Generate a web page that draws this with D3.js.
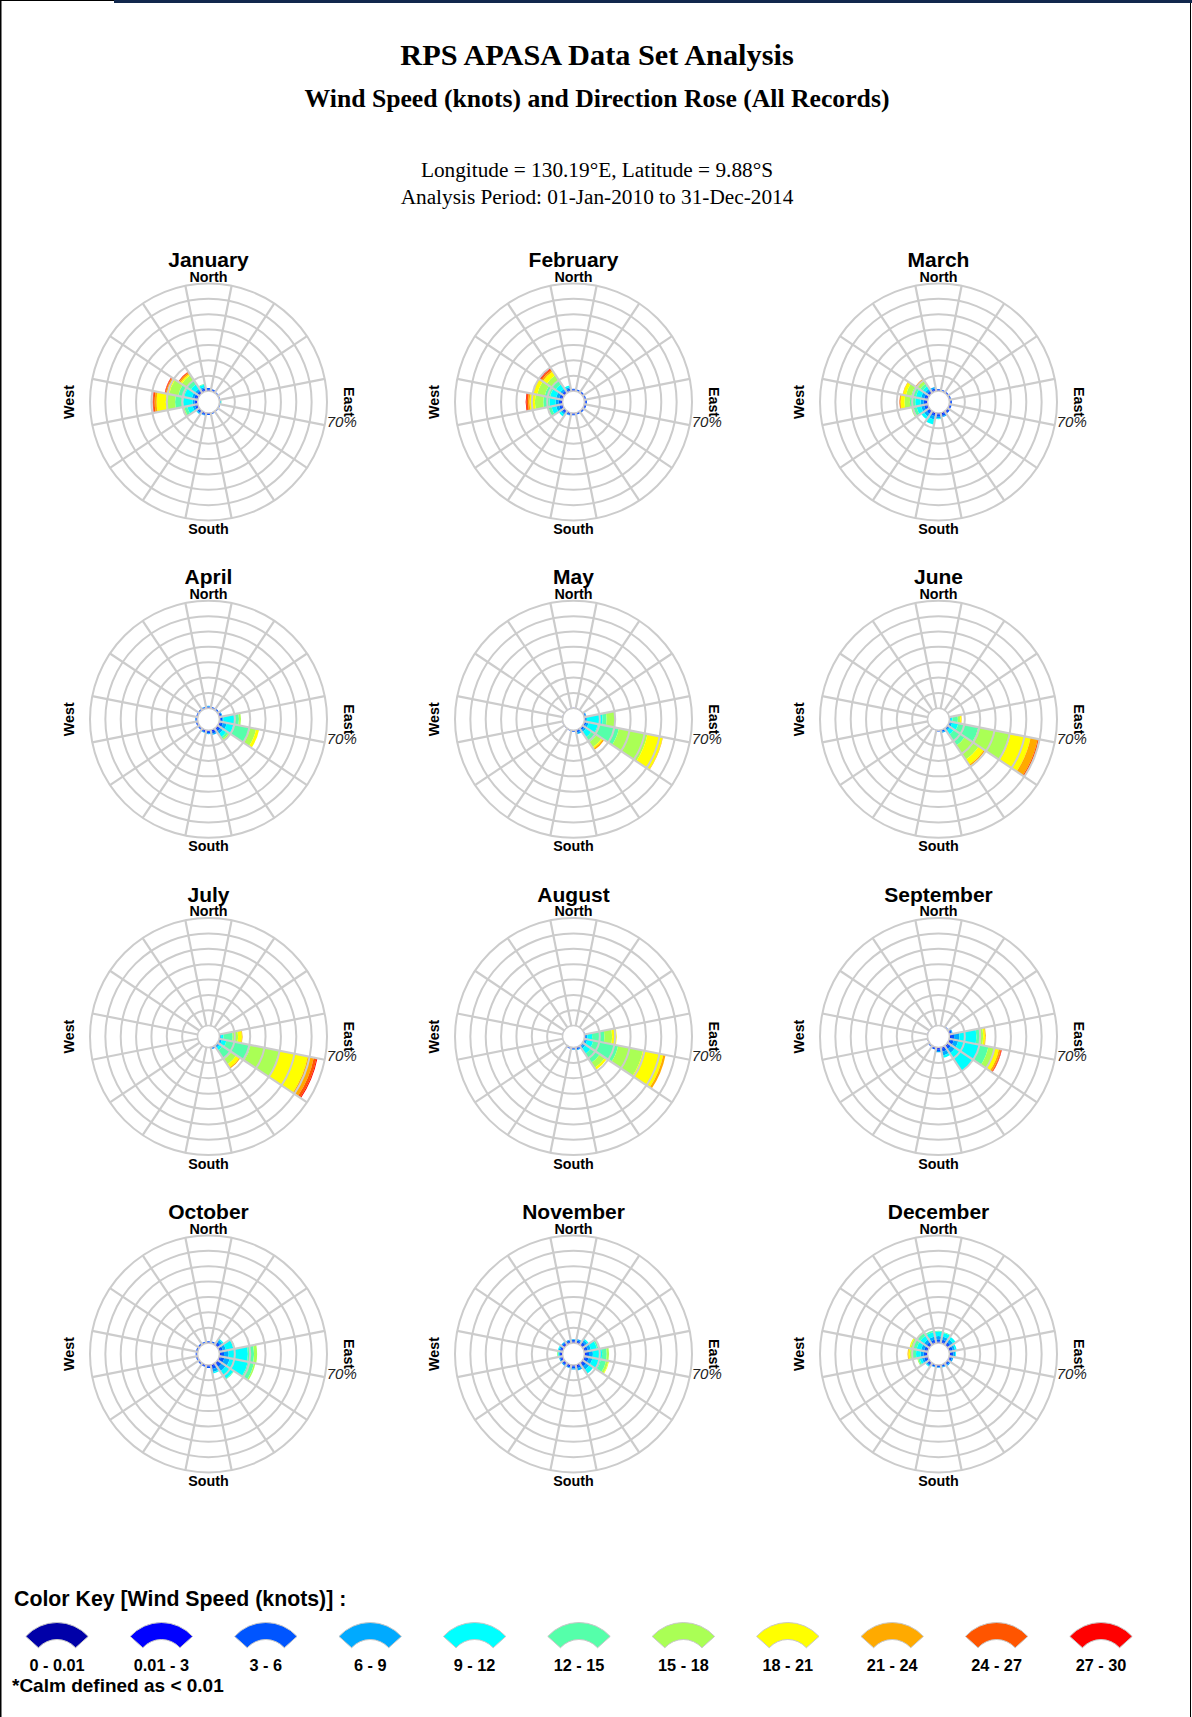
<!DOCTYPE html>
<html><head><meta charset="utf-8">
<script src="https://cdn.jsdelivr.net/npm/d3@7"></script>
<style>body{margin:0;background:#fff}svg{display:block}</style>
</head><body>
<svg id="c" width="1192" height="1717"></svg>
<script>
// ---------- data ----------
const directions = ["N","NNE","NE","ENE","E","ESE","SE","SSE","S","SSW","SW","WSW","W","WNW","NW","NNW"];
const speedBins = ["0 - 0.01","0.01 - 3","3 - 6","6 - 9","9 - 12","12 - 15","15 - 18","18 - 21","21 - 24","24 - 27","27 - 30"];
const binColors = ["#0000A8","#0000FF","#0055FF","#00AAFF","#00FFFF","#55FFAA","#AAFF55","#FFFF00","#FFAA00","#FF5500","#FF0000"];
const months = ["January","February","March","April","May","June","July","August","September","October","November","December"];
const ringTicks = [10,20,30,40,50,60,70];
const maxTickLabel = "70%";

// each row: percent of records per speed bin (0.01-3 ... 27-30) for one direction, N clockwise
const janData = [
  [1,1],[0.8,0.7],[0.5,0.3],[0.4,0.3],[0.3,0.3,0.2,0.2,0.3],[0.4,0.3],[0.4,0.3],[0.5,0.4],
  [0.7,0.6],[0.8,0.8,0.4],[0.8,1,0.7,0.3],[1,1,1.5,3.5,2,1],
  [1,1,1.3,6,5.3,6,6,1.3,1,0.3],[1,1.5,1.5,5,4,6,1.5,0.7,0.5,0.3],[1,1,1.5,3.5,3,4,1,1,0.5,0.2],[1,1,1,1.5,0.5]
];
const febData = [
  [0.8,0.7],[0.7,0.6],[0.7,0.6],[0.7,0.6],[0.8,0.8],[0.8,0.7],[0.7,0.7],[0.7,0.6],
  [0.8,0.7],[0.8,0.8,0.4],[1,1,1,1.5],[1,1.5,2,3,2,0.5],
  [1,1.5,2,4,4,5.5,3.5,1,1,0.5],[1,1.5,2,4,3.5,5,2.5,0.5],[1,1,1.5,3.5,3,4,3,1,1,1],[1,1,1,1]
];
const marData = [
  [0.8,0.5],[0.7,0.4],[0.7,0.4],[0.7,0.5],[0.8,0.8],[0.8,0.8],[1,1],[1,1.5,0.5],
  [1,1.5,1,0.5],[1,1.5,2,3.5],[1,1.5,2,2],[1,1.5,2,3,2,1.5],
  [1,1.5,2,3.5,3.5,3.5,2.5,0.5,0.3],[1,1.5,2,3.5,3,3.5,2,0.3],[1,1,1.5,2,2,2,0.8,0.5,0.2],[1,1,1]
];
const aprData = [
  [0.7,0.5,0.5],[0.6,0.6],[0.6,0.6],[0.8,0.8,0.5],[0.8,1,0.9,7.6,2.4,1.3],[1,1.5,2.5,4.5,11,4,2],[1,1.5,2,2.5,1.5,1,0.5],[1,1.5,0.8],
  [1,1,0.5],[0.8,0.8,0.4],[0.7,0.6],[0.7,0.6],
  [0.7,0.6,0.3],[0.6,0.5],[0.6,0.5],[0.6,0.5,0.3]
];
const mayData = [
  [0.3],[0.3],[0.3],[0.5,0.5,0.5],[0.5,0.5,0.6,10.2,2.6,5.6],[0.5,1,1.5,6,14,19,10,0.3],[0.5,1,1.5,4,4,4,1,1],[0.7,1,1],
  [0.5,0.4],[0.4,0.3],[0.3],[0.3],
  [0.3],[0.3],[0.3],[0.3]
];
const junData = [
  [0],[0],[0],[0],[0.3,0.3,0.4,1,3.5,1.5,0.8,0.2],[0.5,0.5,1,4,13.3,21.3,13.4,4.7,1],[0.5,0.5,1,3,8.5,11,4,1],[0.5,0.7,0.8],
  [0.5,0.3],[0.3],[0],[0],
  [0],[0],[0],[0]
];
const julData = [
  [0],[0],[0],[0],[0.3,0.3,0.5,1.5,6,3.5,2.5,0.4],[0.3,0.5,1,3,16,19,19,4,1.8,0.6],[0.3,0.5,1,2,7,4,2.5,0.7],[0.5,0.5,0.3],
  [0.3],[0],[0],[0],
  [0],[0],[0],[0]
];
const augData = [
  [0.2],[0.2],[0.2],[0.3,0.2],[0.5,0.5,1,3,8,5,3],[0.5,0.5,1,4,16.5,16.5,13.5,1.5],[0.5,0.5,1.5,4,7,4,1.5],[0.7,0.7,0.6],
  [0.6,0.5,0.3],[0.5,0.4],[0.2],[0.2],
  [0.2],[0.2],[0.2],[0.2]
];
const sepData = [
  [0.3],[0.3],[0.4,0.3],[0.8,1,0.5],[1,2,3.5,11,3,1.5,1.2,0.5],[1,2,3,14,6,4,3,1.2,0.5,0.3],[1,2,3,14],[1,2,2.5,1.5],
  [1,1.2,0.8],[0.8,0.7],[0.6,0.4],[0.4],
  [0.3],[0.3],[0.3],[0.3]
];
const octData = [
  [0.7,0.5],[0.7,0.6],[1,1.5,1.5,1],[1,1.5,2,5,1],[1,2,3,12.5,4,2],[1,2.5,3.5,12,4,1],[1,2.5,3,6,0.5],[1,2,2,1],
  [1,1],[0.8,0.6],[0.7,0.5],[0.7,0.5],
  [0.7,0.5],[0.7,0.5],[0.7,0.5],[0.7,0.5]
];
const novData = [
  [1,1,0.5],[1,1,0.8],[1,1.5,1.5,1],[1,1.5,2,4,1],[1,2,2.5,6,3,1.5],[1,2,2.5,5.5,3.5,1.5,0.5],[1,2,2.5,3],[1,1.5,1.5],
  [1,1.2,0.8],[1,1,0.5],[1,1,0.5],[1,1,0.5],
  [1,0.8,0.5,0.5,0.5,0.3],[1,1,0.8,0.5],[1,1,0.8],[1,1,0.5]
];
const decData = [
  [1,1.5,2,3,0.5],[1,1.5,2,2.5,0.5],[1,1.5,2,2],[1,1.5,1.5,1],[1,1.5,1.2,0.5],[0.8,1.2,0.8],[0.8,1,0.7],[0.7,0.8,0.5],
  [0.7,0.8,0.3],[0.7,0.8,0.3],[1,1,0.8,0.5],[1,1.5,1.5,1.5,1,0.5],
  [1,1.5,2,3,2.5,1.5,1,0.5],[1,1.5,2,3,2.5,1.5,0.7],[1,1.5,2,3,2,1],[1,1.5,2,3,1]
];
const monthData = [janData,febData,marData,aprData,mayData,junData,julData,augData,sepData,octData,novData,decData];

// ---------- layout ----------
const W = 1192, H = 1717;
const SANS = "'Liberation Sans', Arial, sans-serif";
const SERIF = "'Liberation Serif', 'Times New Roman', serif";
const colX = [208.5, 573.5, 938.5];
const rowY = [402, 719.3, 1036.6, 1354];
const R0 = 11, R = 118.5;
const GRID = "#cccccc";

const svg = d3.select("#c");
svg.append("rect").attr("width", W).attr("height", H).attr("fill", "#fff");

// page frame
svg.append("line").attr("x1", 0.75).attr("x2", 0.75).attr("y1", 0).attr("y2", H).attr("stroke", "#000").attr("stroke-width", 1.5);
svg.append("line").attr("x1", 1190.5).attr("x2", 1190.5).attr("y1", 0).attr("y2", H).attr("stroke", "#000").attr("stroke-width", 1);
svg.append("line").attr("x1", 0).attr("x2", 114).attr("y1", 0.5).attr("y2", 0.5).attr("stroke", "#000").attr("stroke-width", 1);
svg.append("rect").attr("x", 114).attr("y", 0).attr("width", W - 114).attr("height", 3).attr("fill", "#12284d");

// headings
const head = [
  {t: "RPS APASA Data Set Analysis", y: 65, s: 30.3, w: "bold"},
  {t: "Wind Speed (knots) and Direction Rose (All Records)", y: 106.5, s: 25.7, w: "bold"},
  {t: "Longitude = 130.19°E, Latitude = 9.88°S", y: 177, s: 21.3, w: "normal"},
  {t: "Analysis Period: 01-Jan-2010 to 31-Dec-2014", y: 204, s: 21.3, w: "normal"}
];
svg.selectAll("text.head").data(head).join("text").attr("class", "head")
  .attr("x", 597).attr("y", d => d.y).attr("text-anchor", "middle")
  .attr("font-family", SERIF).attr("font-size", d => d.s).attr("font-weight", d => d.w)
  .attr("fill", "#000").text(d => d.t);

// ---------- roses ----------
const rScale = d3.scaleLinear().domain([0, 70]).range([R0, R]);
const arc = d3.arc();
const half = 11.25;
const rad = a => a * Math.PI / 180;

monthData.forEach((data, m) => {
  const cx = colX[m % 3], cy = rowY[Math.floor(m / 3)];
  const g = svg.append("g").attr("transform", `translate(${cx},${cy})`);

  const segs = [];
  data.forEach((row, i) => {
    let c = 0;
    row.forEach((v, b) => {
      if (v > 0) segs.push({i, b, c0: c, c1: c + v});
      c += v;
    });
  });
  g.selectAll("path.bar").data(segs).join("path").attr("class", "bar")
    .attr("d", d => arc({
      innerRadius: rScale(d.c0), outerRadius: rScale(d.c1),
      startAngle: rad(d.i * 22.5 - half), endAngle: rad(d.i * 22.5 + half)
    }))
    .attr("fill", d => binColors[d.b + 1]);

  // grid on top
  g.selectAll("circle.ring").data(ringTicks).join("circle").attr("class", "ring")
    .attr("r", d => rScale(d)).attr("fill", "none").attr("stroke", GRID).attr("stroke-width", 2);
  g.selectAll("line.spoke").data(directions).join("line").attr("class", "spoke")
    .attr("x1", (d, i) => R0 * Math.sin(rad(i * 22.5 + half)))
    .attr("y1", (d, i) => -R0 * Math.cos(rad(i * 22.5 + half)))
    .attr("x2", (d, i) => R * Math.sin(rad(i * 22.5 + half)))
    .attr("y2", (d, i) => -R * Math.cos(rad(i * 22.5 + half)))
    .attr("stroke", GRID).attr("stroke-width", 2.2);
  g.append("circle").attr("r", R0).attr("fill", "none").attr("stroke", GRID).attr("stroke-width", 1.5);

  // labels
  g.append("text").attr("x", 0).attr("y", -135).attr("text-anchor", "middle")
    .attr("font-family", SANS).attr("font-weight", "bold").attr("font-size", 21).text(months[m]);
  g.append("text").attr("x", 0).attr("y", -120.5).attr("text-anchor", "middle")
    .attr("font-family", SANS).attr("font-weight", "bold").attr("font-size", 14.3).text("North");
  g.append("text").attr("x", 0).attr("y", 132).attr("text-anchor", "middle")
    .attr("font-family", SANS).attr("font-weight", "bold").attr("font-size", 14.3).text("South");
  g.append("text").attr("transform", "translate(-135,0) rotate(-90)").attr("text-anchor", "middle")
    .attr("font-family", SANS).attr("font-weight", "bold").attr("font-size", 14.3).text("West");
  g.append("text").attr("transform", "translate(135,0) rotate(90)").attr("text-anchor", "middle")
    .attr("font-family", SANS).attr("font-weight", "bold").attr("font-size", 14.3).text("East");
  const la = rad(101.25);
  g.append("text").attr("x", R * Math.sin(la) + 2).attr("y", -R * Math.cos(la) + 1.5)
    .attr("font-family", SANS).attr("font-style", "italic").attr("font-size", 15).attr("fill", "#222")
    .text(maxTickLabel);
});

// ---------- legend ----------
svg.append("text").attr("x", 14).attr("y", 1606).attr("font-family", SANS).attr("font-weight", "bold")
  .attr("font-size", 21.3).text("Color Key [Wind Speed (knots)] :");
const legX = d3.scaleLinear().domain([0, speedBins.length - 1]).range([57, 1101]);
const legArc = d3.arc().innerRadius(25).outerRadius(42).startAngle(rad(-48)).endAngle(rad(48));
const lg = svg.selectAll("g.key").data(speedBins).join("g").attr("class", "key")
  .attr("transform", (d, i) => `translate(${legX(i)},0)`);
lg.append("path").attr("transform", "translate(0,1664.5)").attr("d", legArc())
  .attr("fill", (d, i) => binColors[i]).attr("stroke", "#c8c8c8").attr("stroke-width", 1);
lg.append("text").attr("x", 0).attr("y", 1671).attr("text-anchor", "middle")
  .attr("font-family", SANS).attr("font-weight", "bold").attr("font-size", 16.3).text(d => d);
svg.append("text").attr("x", 12).attr("y", 1692).attr("font-family", SANS).attr("font-weight", "bold")
  .attr("font-size", 19).text("*Calm defined as < 0.01");
</script>
</body></html>
